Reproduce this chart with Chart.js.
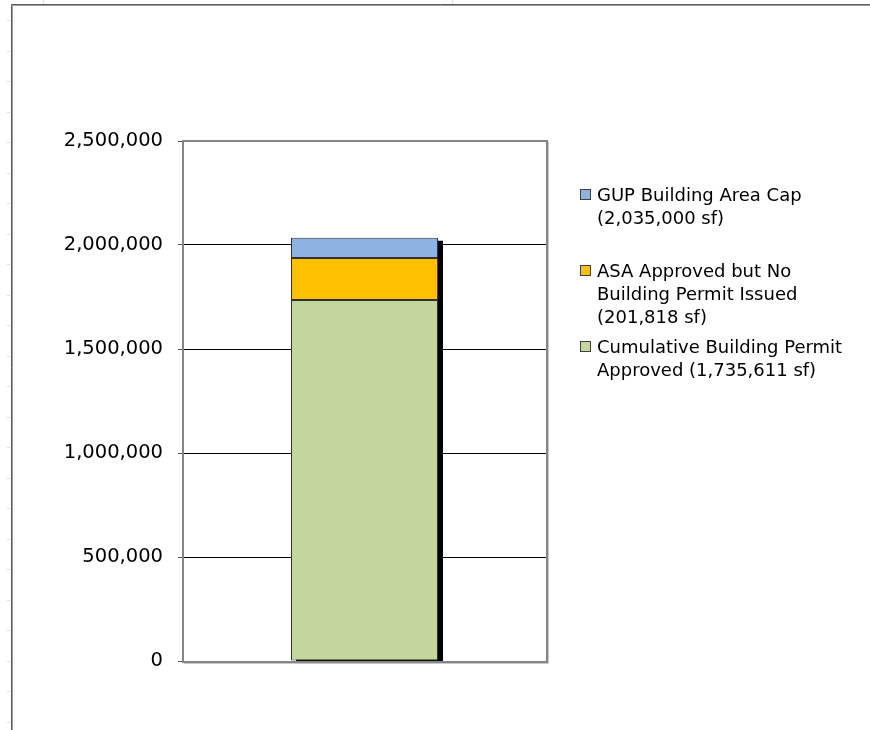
<!DOCTYPE html>
<html>
<head>
<meta charset="utf-8">
<script src="https://cdn.jsdelivr.net/npm/chart.js@4.4.1/dist/chart.umd.min.js"></script>
<style>
  body { margin: 0; background: #fff; }
  #wrap { width: 870px; height: 730px; }
</style>
</head>
<body>
<div id="wrap"><canvas id="permitChart" width="870" height="730"></canvas></div>
<script>
// chart data
const categories = [''];
const seriesNames = ['Cumulative Building Permit Approved', 'ASA Approved but No Building Permit Issued', 'GUP Building Area Cap'];
const permitApproved = [1735611];
const asaApproved = [201818];
const capRemainder = [97571]; // 2,035,000 - 1,735,611 - 201,818
const seriesColors = ['#C3D69B', '#FFC000', '#8DB3E2'];
const legendLines = [
    ['GUP Building Area Cap', '(2,035,000 sf)'],
    ['ASA Approved but No', 'Building Permit Issued', '(201,818 sf)'],
    ['Cumulative Building Permit', 'Approved (1,735,611 sf)']
];
const legendColors = ['#8DB3E2', '#FFC000', '#C3D69B'];
const yTicks = [0, 500000, 1000000, 1500000, 2000000, 2500000];

const FONT = "'DejaVu Sans', Verdana, sans-serif";

// page frame, plot border, bar shadow and the side legend
const decorations = {
    id: 'decorations',
    beforeDraw(chart) {
        const ctx = chart.ctx;
        ctx.save();
        // faint row marks on the left edge
        ctx.strokeStyle = '#e0e0e0';
        ctx.lineWidth = 1;
        for (let y = 20; y < 730; y += 30.5) {
            ctx.beginPath();
            ctx.moveTo(7, Math.round(y) + 0.5);
            ctx.lineTo(10, Math.round(y) + 0.5);
            ctx.stroke();
        }
        ctx.beginPath();
        ctx.moveTo(43.5, 0); ctx.lineTo(43.5, 4);
        ctx.moveTo(452.5, 0); ctx.lineTo(452.5, 4);
        ctx.stroke();
        // frame
        ctx.strokeStyle = '#5a5a5a';
        ctx.lineWidth = 1;
        ctx.beginPath();
        ctx.moveTo(11.5, 730); ctx.lineTo(11.5, 4.5); ctx.lineTo(870, 4.5);
        ctx.stroke();
        ctx.strokeStyle = '#a0a0a0';
        ctx.beginPath();
        ctx.moveTo(12.5, 730); ctx.lineTo(12.5, 5.5); ctx.lineTo(870, 5.5);
        ctx.stroke();
        ctx.restore();
    },
    beforeDatasetsDraw(chart) {
        const ctx = chart.ctx;
        const area = chart.chartArea;
        let top = Infinity, bottom = -Infinity, left = 0, right = 0;
        chart.data.datasets.forEach((ds, i) => {
            chart.getDatasetMeta(i).data.forEach(bar => {
                top = Math.min(top, bar.y);
                bottom = Math.max(bottom, bar.base);
                left = bar.x - bar.width / 2;
                right = bar.x + bar.width / 2;
            });
        });
        ctx.save();
        ctx.fillStyle = '#000';
        ctx.fillRect(left + 5, top + 3, right - left, Math.min(bottom + 3, area.bottom) - top - 3);
        ctx.restore();
    },
    afterDraw(chart) {
        const ctx = chart.ctx;
        const a = chart.chartArea;
        ctx.save();
        // plot border
        ctx.strokeStyle = '#c8c8c8';
        ctx.lineWidth = 1;
        ctx.beginPath();
        ctx.moveTo(a.right + 2.5, a.top + 1);
        ctx.lineTo(a.right + 2.5, a.bottom + 2.5);
        ctx.lineTo(a.left + 1, a.bottom + 2.5);
        ctx.stroke();
        ctx.strokeStyle = '#868686';
        ctx.lineWidth = 2;
        ctx.strokeRect(a.left, a.top, a.right - a.left + 1, a.bottom - a.top + 1);
        // legend
        ctx.font = '18px ' + FONT;
        ctx.textBaseline = 'middle';
        ctx.textAlign = 'left';
        legendLines.forEach((lines, i) => {
            const y0 = 195 + i * 76;
            ctx.fillStyle = legendColors[i];
            ctx.fillRect(580.5, y0 - 5.5, 10, 10);
            ctx.strokeStyle = '#404040';
            ctx.lineWidth = 1;
            ctx.strokeRect(580.5, y0 - 5.5, 10, 10);
            ctx.fillStyle = '#000';
            lines.forEach((t, j) => ctx.fillText(t, 597, y0 + 1 + j * 23));
        });
        ctx.restore();
    }
};

new Chart(document.getElementById('permitChart'), {
    type: 'bar',
    data: {
        labels: categories,
        datasets: [
            { label: seriesNames[0], data: permitApproved, backgroundColor: seriesColors[0] },
            { label: seriesNames[1], data: asaApproved, backgroundColor: seriesColors[1] },
            { label: seriesNames[2], data: capRemainder, backgroundColor: seriesColors[2] }
        ].map(ds => Object.assign(ds, {
            borderColor: '#303030',
            borderWidth: 1,
            borderSkipped: false,
            barPercentage: 1,
            categoryPercentage: 0.405
        }))
    },
    options: {
        responsive: false,
        animation: false,
        layout: { padding: { left: 0, top: 141, right: 324, bottom: 69 } },
        plugins: {
            legend: { display: false },
            tooltip: { enabled: false }
        },
        scales: {
            x: { stacked: true, display: false },
            y: {
                stacked: true,
                min: 0,
                max: 2500000,
                afterBuildTicks: scale => { scale.ticks = yTicks.map(v => ({ value: v })); },
                afterFit: scale => { scale.width = 183; },
                border: { display: true, color: '#555', width: 1 },
                grid: {
                    color: '#000',
                    lineWidth: 1,
                    tickLength: 5,
                    tickColor: '#555'
                },
                ticks: {
                    color: '#000',
                    padding: 15,
                    font: { family: FONT, size: 19.5 },
                    callback: v => v.toLocaleString('en-US')
                }
            }
        }
    },
    plugins: [decorations]
});
</script>
</body>
</html>
